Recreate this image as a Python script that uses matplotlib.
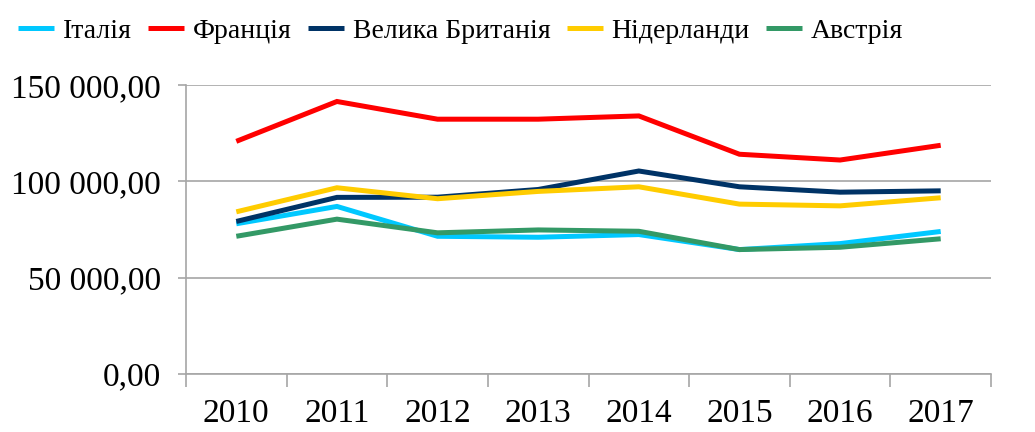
import matplotlib
matplotlib.use("Agg")
import matplotlib.pyplot as plt
from matplotlib.ticker import FuncFormatter, FixedLocator
import numpy as np

# дані
YEARS = ["2010", "2011", "2012", "2013", "2014", "2015", "2016", "2017"]
ITALY = [78000, 87000, 71500, 71000, 72400, 64600, 67700, 74000]
FRANCE = [120800, 141500, 132300, 132300, 134000, 114100, 111100, 118750]
UK = [79200, 91700, 91800, 95800, 105400, 97200, 94400, 95100]
NETHERLANDS = [84200, 96700, 91000, 94800, 97200, 88200, 87300, 91500]
AUSTRIA = [71500, 80400, 73300, 74800, 74100, 64600, 65800, 70200]

SERIES = [
    ("Італія", ITALY, "#00C8FF"),
    ("Франція", FRANCE, "#FF0000"),
    ("Велика Британія", UK, "#003366"),
    ("Нідерланди", NETHERLANDS, "#FFCC00"),
    ("Австрія", AUSTRIA, "#339966"),
]

SERIF = ["Liberation Serif", "DejaVu Serif"]
plt.rcParams["font.family"] = SERIF

fig = plt.figure(figsize=(10.35, 4.32), dpi=100)
ax = fig.add_axes([0.1797, 0.1343, 0.7778, 0.6687])

x = np.arange(len(YEARS))
handles = []
for name, vals, col in SERIES:
    h, = ax.plot(x, vals, color=col, lw=3.6, solid_capstyle="butt",
                 solid_joinstyle="miter", label=name)
    handles.append(h)

ax.set_xlim(-0.5, len(YEARS) - 0.5)
ax.set_ylim(0, 150000)
ax.set_yticks([0, 50000, 100000, 150000])
ax.yaxis.set_major_formatter(FuncFormatter(
    lambda v, p: f"{v:,.2f}".replace(",", " ").replace(".", ",")))
ax.set_xticks(x)
ax.set_xticklabels(YEARS)
ax.xaxis.set_minor_locator(FixedLocator(np.arange(-0.5, len(YEARS), 1.0)))

ax.grid(axis="y", color="#A6A6A6", lw=1.2)
ax.set_axisbelow(True)
for s in ["top", "right"]:
    ax.spines[s].set_visible(False)
for s in ["left", "bottom"]:
    ax.spines[s].set_color("#A6A6A6")
    ax.spines[s].set_linewidth(1.2)

ax.tick_params(axis="x", which="major", length=0, pad=18, labelsize=24)
ax.tick_params(axis="x", which="minor", length=9, width=1.2, color="#A6A6A6")
ax.tick_params(axis="y", length=6, width=1.2, color="#A6A6A6", pad=12,
               labelsize=24)

fig.legend(handles=handles, loc="upper left", bbox_to_anchor=(0.0, 1.0),
           ncol=5, frameon=False, prop={"family": SERIF, "size": 20},
           handlelength=1.3, handletextpad=0.3, columnspacing=0.6,
           borderaxespad=0.25)

fig.savefig("out.png", dpi=100)
